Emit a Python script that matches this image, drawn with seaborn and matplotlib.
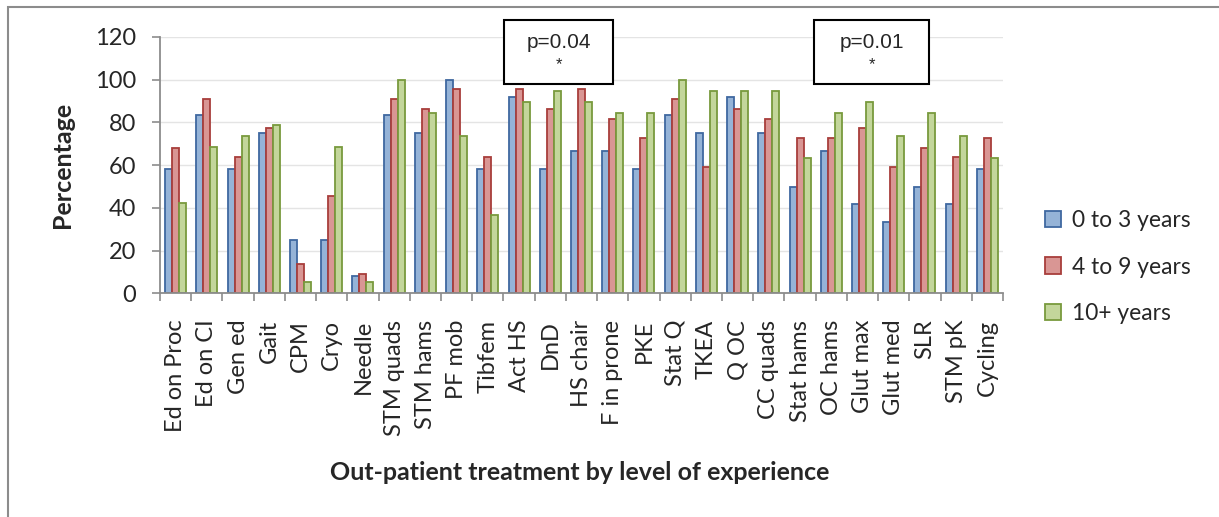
import matplotlib
matplotlib.use("Agg")
import matplotlib.pyplot as plt
import seaborn as sns
import pandas as pd
from matplotlib.patches import Rectangle, Patch
from matplotlib.ticker import FixedLocator, MultipleLocator

# Share of out-patient therapists using each treatment, by years of experience
categories = ["Ed on Proc", "Ed on CI", "Gen ed", "Gait", "CPM", "Cryo", "Needle",
              "STM quads", "STM hams", "PF mob", "Tibfem", "Act HS", "DnD",
              "HS chair", "F in prone", "PKE", "Stat Q", "TKEA", "Q OC",
              "CC quads", "Stat hams", "OC hams", "Glut max", "Glut med", "SLR",
              "STM pK", "Cycling"]
groups = ["0 to 3 years", "4 to 9 years", "10+ years"]

yrs_0_3 = [58.3, 83.3, 58.3, 75.0, 25.0, 25.0, 8.3, 83.3, 75.0, 100.0, 58.3,
           91.7, 58.3, 66.7, 66.7, 58.3, 83.3, 75.0, 91.7, 75.0, 50.0, 66.7,
           41.7, 33.3, 50.0, 41.7, 58.3]
yrs_4_9 = [68.2, 90.9, 63.6, 77.3, 13.6, 45.5, 9.1, 90.9, 86.4, 95.5, 63.6,
           95.5, 86.4, 95.5, 81.8, 72.7, 90.9, 59.1, 86.4, 81.8, 72.7, 72.7,
           77.3, 59.1, 68.2, 63.6, 72.7]
yrs_10p = [42.1, 68.4, 73.7, 78.9, 5.3, 68.4, 5.3, 100.0, 84.2, 73.7, 36.8,
           89.5, 94.7, 89.5, 84.2, 84.2, 100.0, 94.7, 94.7, 94.7, 63.2, 84.2,
           89.5, 73.7, 84.2, 73.7, 63.2]

p_labels = ["p=0.04", "p=0.01"]

wide = pd.DataFrame({"Treatment": categories,
                     groups[0]: yrs_0_3,
                     groups[1]: yrs_4_9,
                     groups[2]: yrs_10p})
long = wide.melt(id_vars="Treatment", var_name="Experience", value_name="Percentage")

fills = ["#95B3D7", "#D99694", "#C3D69B"]
edges = ["#3F68A0", "#A83E3B", "#789A3D"]

sns.set_theme(style="white")
plt.rcParams["font.family"] = ["Lato", "DejaVu Sans"]

W, H = 1219, 517
fig = plt.figure(figsize=(W / 100, H / 100), dpi=100)
ax = fig.add_axes([160 / W, 1 - 293.3 / H, (1003 - 160) / W, (293.3 - 37) / H])

sns.barplot(data=long, x="Treatment", y="Percentage", hue="Experience",
            order=categories, hue_order=groups, palette=fills, saturation=1,
            width=0.67, gap=0, errorbar=None, legend=False, ax=ax, zorder=2)

for cont, ec in zip(ax.containers, edges):
    for bar in cont:
        bar.set_edgecolor(ec)
        bar.set_linewidth(1.3)

ax.set_xlim(-0.5, len(categories) - 0.5)
ax.set_ylim(0, 120)
ax.yaxis.set_major_locator(MultipleLocator(20))
ax.yaxis.grid(True, color="#E4E4E4", lw=1.0)
ax.set_axisbelow(True)

for side in ("top", "right"):
    ax.spines[side].set_visible(False)
for side in ("left", "bottom"):
    ax.spines[side].set_color("#8C8C8C")
    ax.spines[side].set_linewidth(1.3)

ax.tick_params(axis="y", which="major", length=6, width=1.2, color="#8C8C8C",
               labelsize=17, pad=11, left=True)
ax.xaxis.set_minor_locator(FixedLocator([i - 0.5 for i in range(len(categories) + 1)]))
ax.tick_params(axis="x", which="major", length=0, labelsize=17, pad=19,
               rotation=90)
ax.tick_params(axis="x", which="minor", length=5.5, width=1.2, color="#8C8C8C",
               bottom=True)
ax.set_xlabel("")
ax.set_ylabel("")

fig.text(62 / W, 1 - 165 / H, "Percentage", rotation=90, ha="center", va="center",
         fontsize=18, fontweight="bold")
fig.text(580 / W, 1 - 473 / H, "Out-patient treatment by level of experience",
         ha="center", va="center", fontsize=18, fontweight="bold")

# significance boxes above the chart
for label, (x0, x1) in zip(p_labels, [(10.52, 14.01), (20.45, 24.13)]):
    ax.add_patch(Rectangle((x0, 98.0), x1 - x0, 30.0, facecolor="white",
                           edgecolor="black", lw=1.5, clip_on=False, zorder=5))
    xc = (x0 + x1) / 2
    ax.text(xc, 117.2, label, ha="center", va="center", fontsize=15,
            family=["Liberation Sans", "DejaVu Sans"], zorder=6, clip_on=False)
    ax.text(xc, 107.0, "*", ha="center", va="center", fontsize=12,
            family=["Liberation Sans", "DejaVu Sans"], zorder=6, clip_on=False)

handles = [Patch(facecolor=f, edgecolor=e, lw=1.3) for f, e in zip(fills, edges)]
fig.legend(handles, groups, loc="center left",
           bbox_to_anchor=(1045 / W, 1 - 267 / H), frameon=False, fontsize=16.4,
           handlelength=0.72, handleheight=0.72, handletextpad=0.45,
           labelspacing=1.12, borderpad=0, borderaxespad=0)

# chart-area border
fig.patches.append(Rectangle((8 / W, -0.1), 1.2, 1 - 7 / H + 0.1,
                             transform=fig.transFigure, fill=False,
                             edgecolor="#8C8C8C", lw=1.5))

fig.savefig("out.png", dpi=100)
